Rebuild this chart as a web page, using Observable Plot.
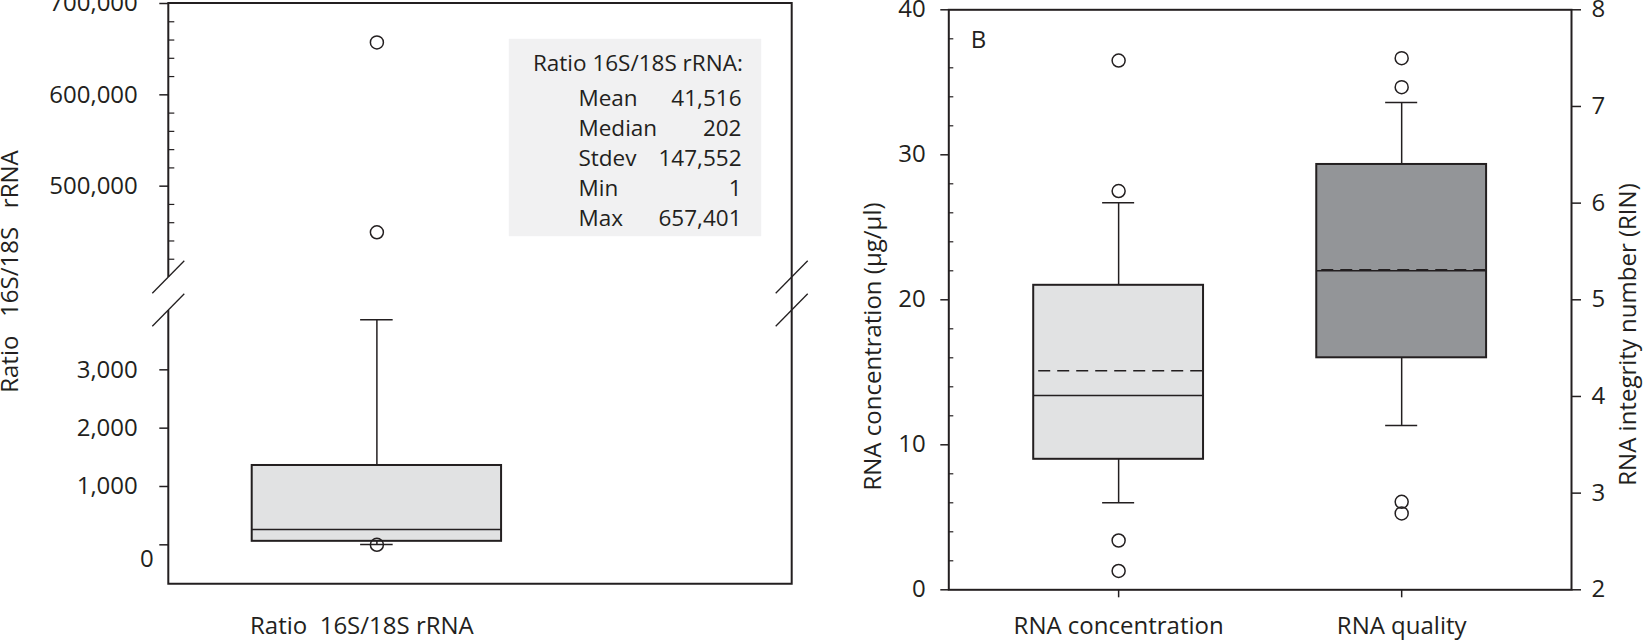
<!DOCTYPE html>
<html>
<head>
<meta charset="utf-8">
<script src="https://cdn.jsdelivr.net/npm/d3@7"></script>
<script src="https://cdn.jsdelivr.net/npm/@observablehq/plot@0.6"></script>
<style>
  html, body { margin: 0; padding: 0; background: #fff; overflow: hidden; }
  #chart { position: relative; width: 1643px; height: 642px; }
  #chart svg { position: absolute; left: 0; top: 0; overflow: visible; max-width: none; }
  svg text { white-space: pre; }
</style>
</head>
<body>
<div id="chart"></div>
<script>
// ---------------- data ----------------
// Panel A: ratio 16S/18S rRNA (broken y axis)
const ratioCategory = ["Ratio  16S/18S rRNA"];
const ratioYLabel = "Ratio   16S/18S   rRNA";
const ratioBox = [60, 262, 1360];            // Q1, median, Q3
const ratioWhiskers = [5, 3860];             // lower, upper whisker
const ratioOutliers = [657401, 449500, 1];
const ratioLowerDomain = [-675, 4017];
const ratioUpperDomain = [400000, 700000];
const ratioLowerTicks = [1000, 2000, 3000];
const ratioZeroTick = [0];
const ratioUpperTicks = [500000, 600000, 700000];
const ratioUpperMinorTicks = [420000, 440000, 460000, 480000, 520000, 540000, 560000, 580000, 620000, 640000, 660000, 680000];
const statsTitle = "Ratio 16S/18S rRNA:";
const statNames = ["Mean", "Median", "Stdev", "Min", "Max"];
const statValues = [41516, 202, 147552, 1, 657401];

// Panel B
const panelLetter = "B";
const bCategories = ["RNA concentration", "RNA quality"];
const concLabel = "RNA concentration (µg/µl)";
const concDomain = [0, 40];
const concTicks = [0, 10, 20, 30, 40];
const concMinorTicks = [2, 4, 6, 8, 12, 14, 16, 18, 22, 24, 26, 28, 32, 34, 36, 38];
const concBox = [9.0, 13.4, 21.0];
const concMean = [15.1];
const concWhiskers = [6.0, 26.7];
const concOutliers = [36.5, 27.5, 3.4, 1.3];

const rinLabel = "RNA integrity number (RIN)";
const rinDomain = [2, 8];
const rinTicks = [2, 3, 4, 5, 6, 7, 8];
const rinBox = [4.4, 5.3, 6.4];
const rinMean = [5.31];
const rinWhiskers = [3.7, 7.04];
const rinOutliers = [7.5, 7.2, 2.91, 2.79];

// ---------------- styling ----------------
const INK = "#231f20";
const LIGHT = "#e1e2e3";
const DARK = "#939598";
const STATS_BG = "#f1f1f2";
const W = 1643, H = 642;
const fmt = d3.format(",");
const fmtInt = d3.format("d");

function baseStyle() {
  return {background: "transparent", fontFamily: "'Open Sans', 'Noto Sans', sans-serif",
          fontSize: "24px", color: INK, overflow: "visible"};
}

function boxMarks({cat, box, whiskers, outliers, mean, fill, capInset}) {
  const row = [{cat, q1: box[0], median: box[1], q3: box[2], low: whiskers[0], high: whiskers[1]}];
  const marks = [
    Plot.ruleX(row, {x: "cat", y1: "q3", y2: "high", stroke: INK, strokeWidth: 1.5}),
    Plot.ruleX(row, {x: "cat", y1: "low", y2: "q1", stroke: INK, strokeWidth: 1.5}),
    Plot.tickY(row, {x: "cat", y: "high", stroke: INK, strokeWidth: 1.5, insetLeft: capInset, insetRight: capInset}),
    Plot.tickY(row, {x: "cat", y: "low", stroke: INK, strokeWidth: 1.5, insetLeft: capInset, insetRight: capInset}),
    Plot.barY(row, {x: "cat", y1: "q1", y2: "q3", fill, stroke: INK, strokeWidth: 2}),
    Plot.tickY(row, {x: "cat", y: "median", stroke: INK, strokeWidth: 1.5})
  ];
  if (mean) {
    marks.push(Plot.tickY(mean.map(m => ({cat, m})), {x: "cat", y: "m", stroke: INK, strokeWidth: 1.5,
      strokeDasharray: "12,7", strokeDashoffset: -5}));
  }
  marks.push(Plot.dot(outliers.map(v => ({cat, v})), {x: "cat", y: "v", r: 6.5, stroke: INK, strokeWidth: 1.5, fill: "none"}));
  return marks;
}

// custom frame with the axis break for panel A
function ratioFrame(index, scales, values, dims) {
  const {width, height, marginTop, marginRight, marginBottom, marginLeft} = dims;
  const xl = marginLeft, xr = width - marginRight, yt = marginTop, yb = height - marginBottom;
  const yUp = scales.y(ratioUpperDomain[0]);
  const yLo = scales.y(ratioLowerDomain[1]);
  const g = d3.create("svg:g").attr("fill", "none").attr("stroke", INK);
  g.append("path")
    .attr("d", `M${xl},${yLo}V${yb}H${xr}V${yt}H${xl}V${yUp}`)
    .attr("stroke-width", 2);
  const bx = 16, by = 16.2;
  for (const xc of [xl, xr]) for (const yc of [yUp, yLo]) {
    g.append("line").attr("x1", xc - bx).attr("y1", yc + by).attr("x2", xc + bx).attr("y2", yc - by)
      .attr("stroke-width", 1.3);
  }
  return g.node();
}

// ---------------- panel A ----------------
const leftPlot = Plot.plot({
  width: W, height: H,
  marginLeft: 168.3, marginRight: 851.3, marginTop: 3, marginBottom: 58.3,
  style: baseStyle(),
  x: {type: "band", domain: ratioCategory, paddingInner: 0, paddingOuter: 0.75, align: 0.223, round: false},
  y: {type: "linear", domain: [...ratioLowerDomain, ...ratioUpperDomain], range: [583.7, 310, 277, 3]},
  marks: [
    Plot.frame({fill: STATS_BG, stroke: "none", insetLeft: 340, insetRight: 31, insetTop: 35.3, insetBottom: 348}),
    ratioFrame,
    Plot.axisY([...ratioLowerTicks, ...ratioUpperTicks], {tickSize: 9, tickPadding: 22, tickFormat: fmt, label: null, strokeWidth: 1.5}),
    Plot.axisY(ratioZeroTick, {tickSize: 9, tickFormat: () => "", label: null, strokeWidth: 1.5}),
    Plot.axisY(ratioZeroTick, {tickSize: 0, tickPadding: 23, dx: 8, dy: 14, tickFormat: fmt, label: null}),
    Plot.axisY(ratioUpperMinorTicks, {tickSize: -6, tickFormat: () => "", label: null, strokeWidth: 1.2}),
    Plot.axisX({tickSize: 0, tickPadding: 33, dx: -15, label: null}),
    ...boxMarks({cat: ratioCategory[0], box: ratioBox, whiskers: ratioWhiskers, outliers: ratioOutliers,
                 fill: LIGHT, capInset: 108.4}),
    Plot.text([statsTitle], {frameAnchor: "top-left", textAnchor: "end", lineAnchor: "middle",
      dx: 574, dy: 59.8, fontSize: 22.5}),
    Plot.text([statNames.join("\n")], {frameAnchor: "top-left", textAnchor: "start", lineAnchor: "top",
      lineHeight: 30 / 22.5, dx: 409.7, dy: 81, fontSize: 22.5}),
    Plot.text([statValues.map(fmt).join("\n")], {frameAnchor: "top-left", textAnchor: "end", lineAnchor: "top",
      lineHeight: 30 / 22.5, dx: 572.7, dy: 81, fontSize: 22.5}),
    Plot.text([ratioYLabel], {frameAnchor: "left", textAnchor: "middle", lineAnchor: "middle",
      rotate: -90, dx: -158.3, dy: -22.3})
  ]
});

// ---------------- panel B ----------------
const bLayout = {width: W, height: H, marginLeft: 948.3, marginRight: 72, marginTop: 9.3, marginBottom: 52.7};
const bX = {type: "band", domain: bCategories, paddingInner: 0.4, paddingOuter: 0.3, round: false};

const concPlot = Plot.plot({
  ...bLayout,
  style: baseStyle(),
  x: bX,
  y: {domain: concDomain},
  marks: [
    Plot.frame({stroke: INK, strokeWidth: 2}),
    Plot.axisY(concTicks, {tickSize: 8, tickPadding: 15, tickFormat: fmtInt, label: null, strokeWidth: 1.5}),
    Plot.axisY(concMinorTicks, {tickSize: -5, tickFormat: () => "", label: null, strokeWidth: 1.2}),
    Plot.axisX({tickSize: 8, tickPadding: 19.5, label: null, strokeWidth: 1.5}),
    ...boxMarks({cat: bCategories[0], box: concBox, whiskers: concWhiskers, outliers: concOutliers,
                 mean: concMean, fill: LIGHT, capInset: 68.9}),
    Plot.text([panelLetter], {frameAnchor: "top-left", textAnchor: "start", lineAnchor: "middle", dx: 22, dy: 31}),
    Plot.text([concLabel], {frameAnchor: "left", textAnchor: "middle", lineAnchor: "middle",
      rotate: -90, dx: -75.8, dy: 46.7})
  ]
});

const rinPlot = Plot.plot({
  ...bLayout,
  style: baseStyle(),
  x: {...bX, axis: null},
  y: {domain: rinDomain},
  marks: [
    Plot.axisY(rinTicks, {anchor: "right", tickSize: 9, tickPadding: 11, tickFormat: fmtInt, label: null, strokeWidth: 1.5}),
    ...boxMarks({cat: bCategories[1], box: rinBox, whiskers: rinWhiskers, outliers: rinOutliers,
                 mean: rinMean, fill: DARK, capInset: 68.9}),
    Plot.text([rinLabel], {frameAnchor: "right", textAnchor: "middle", lineAnchor: "middle",
      rotate: -90, dx: 57.3, dy: 34.7})
  ]
});

const chart = document.getElementById("chart");
chart.append(leftPlot, concPlot, rinPlot);
</script>
</body>
</html>
